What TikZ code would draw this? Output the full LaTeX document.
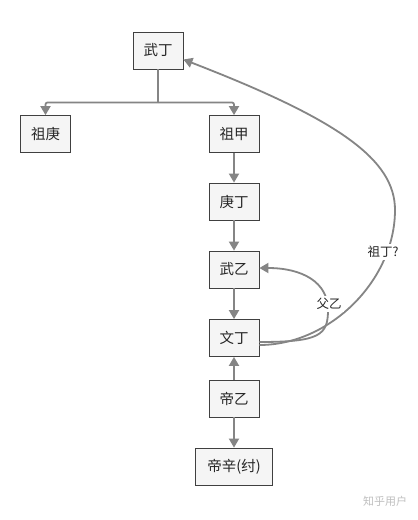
\documentclass[tikz,border=0pt]{standalone}
\usepackage{fontspec}
\setmainfont{Noto Sans CJK SC}
\usetikzlibrary{arrows.meta}
\definecolor{boxfill}{HTML}{F5F5F5}
\definecolor{boxline}{HTML}{404040}
\definecolor{edgec}{HTML}{858585}
\begin{document}
\begin{tikzpicture}[x=1pt,y=-1pt,
  box/.style={draw=boxline,fill=boxfill,line width=0.8pt,minimum width=50pt,minimum height=37pt,inner sep=0pt,font=\fontsize{14.5}{16}\selectfont,text=black!85},
  edge/.style={draw=edgec,line width=1.8pt,-{Triangle[length=9pt,width=10pt]}},
  plain/.style={draw=edgec,line width=1.8pt},
  lbl/.style={fill=white,inner sep=2pt,font=\fontsize{12.5}{14}\selectfont,text=black!85}]
\useasboundingbox (0,0) rectangle (418,520);
\fill[white] (0,0) rectangle (418,520);
\node[box] (wuding) at (158,50.5) {武丁};
\node[box] (zugeng) at (45.5,134) {祖庚};
\node[box] (zujia) at (234,134) {祖甲};
\node[box] (gengding) at (234,201.5) {庚丁};
\node[box] (wuyi) at (234,269.5) {武乙};
\node[box] (wending) at (234,338) {文丁};
\node[box] (diyi) at (234,398.5) {帝乙};
\node[box,minimum width=77pt] (dixin) at (234,466.5) {帝辛(纣)};
\coordinate (split) at (158,102.5);
\draw[plain] (wuding.south) -- (split);
\draw[edge,rounded corners=2pt] (split) -| (zugeng.north);
\draw[edge,rounded corners=2pt] (split) -| (zujia.north);
\draw[edge] (zujia) -- (gengding);
\draw[edge] (gengding) -- (wuyi);
\draw[edge] (wuyi) -- (wending);
\draw[edge] (diyi) -- (wending);
\draw[edge] (diyi) -- (dixin);
\coordinate (fyA) at ([yshift=-4pt]wending.east);
\coordinate (zdA) at ([yshift=-7pt]wending.east);
\coordinate (fyB) at ([yshift=1.5pt]wuyi.east);
\coordinate (zdB) at ([yshift=-9pt]wuding.east);
\draw[edge] (fyA) .. controls (320,342) and (328,335) .. (328,310)
  .. controls (328,282) and (302,268) .. (fyB);
\draw[edge] (zdA) .. controls (330,345) and (395,280) .. (395,210)
  .. controls (395,160) and (340,120) .. (zdB);
\node[lbl] (fuyi) at (329,304) {父乙};
\node[lbl] (zuding) at (383,252) {祖丁?};
\node[font=\fontsize{11}{12}\selectfont,text=black!25] (mark) at (385,501) {知乎用户};
\end{tikzpicture}
\end{document}
